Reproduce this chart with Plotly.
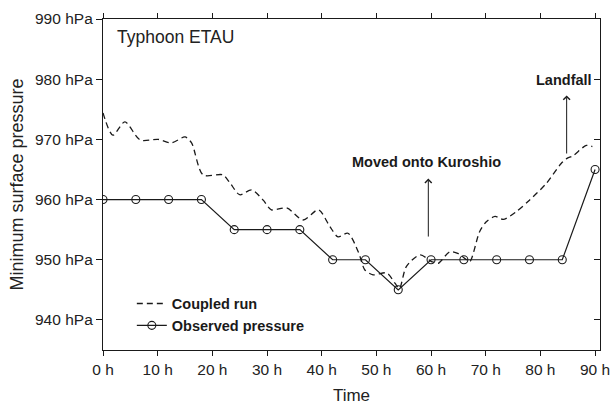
import plotly.graph_objects as go

# Observed best-track minimum pressure (every 6 h)
obs_hours = [0, 6, 12, 18, 24, 30, 36, 42, 48, 54, 60, 66, 72, 78, 84, 90]
obs_pressure = [960, 960, 960, 960, 955, 955, 955, 950, 950, 945, 950, 950, 950, 950, 950, 965]

# Coupled model run minimum pressure
run_hours = [0, 1.8, 4, 6.8, 10.1, 12.5, 15, 16.2, 18.3, 21.9, 23.2, 25, 27.2, 29.3,
             30.8, 33.6, 36.6, 39.4, 41.5, 43, 44.8, 46.7, 47.9, 49.4, 51.9, 53.4,
             54.2, 55.5, 58, 60.1, 61.3, 63.4, 65, 66.5, 67.1, 68.9, 70.1, 71.7,
             73.2, 75.6, 78, 81.1, 83.8, 84.8, 86, 88.4, 89.5]
run_pressure = [974.4, 970.7, 972.9, 969.9, 970, 969.4, 970.4, 969.4, 964.1, 964.1,
                962.8, 960.8, 961.6, 959.9, 958.3, 958.6, 956.6, 958.3, 955.5, 953.8,
                954.4, 951.3, 948.3, 947.5, 947.8, 946.1, 945.2, 948.9, 950.8, 949.7,
                949.4, 951.3, 951.0, 950, 949.7, 954.7, 956.3, 957.2, 956.7, 958,
                959.9, 962.7, 966.0, 966.8, 967.3, 969.0, 968.8]

x_ticks = [0, 10, 20, 30, 40, 50, 60, 70, 80, 90]
x_labels = [f"{h} h" for h in x_ticks]
y_ticks = [940, 950, 960, 970, 980, 990]
y_labels = [f"{p} hPa" for p in y_ticks]
x_range = [0, 90.9]
y_range = [935, 990]

# Events marked with arrows: (hour, arrow base, arrow tip, label, label pressure)
events = [
    (59.5, 953.6, 963.5, "Moved onto Kuroshio", 966.3),
    (84.8, 967.4, 977.3, "Landfall", 979.8),
]

FONT = "Liberation Sans, Arial, Helvetica, sans-serif"
INK = "#1a1a1a"

fig = go.Figure()
fig.add_trace(go.Scatter(
    x=run_hours, y=run_pressure, mode="lines", name="Coupled run",
    line=dict(color=INK, width=1.3, dash="6px,4px", shape="spline", smoothing=0.8),
))
fig.add_trace(go.Scatter(
    x=obs_hours, y=obs_pressure, mode="lines+markers", name="Observed pressure",
    line=dict(color=INK, width=1.2),
    marker=dict(symbol="circle-open", size=8, color=INK, line=dict(width=1.1)),
))
# Invisible copy on the top/right axes so those frame ticks are rendered
fig.add_trace(go.Scatter(
    x=obs_hours, y=obs_pressure, xaxis="x2", yaxis="y2", mode="lines",
    line=dict(color="rgba(0,0,0,0)", width=0), showlegend=False, hoverinfo="skip",
))

annotations = []
for hour, base, tip, label, label_y in events:
    annotations.append(dict(
        x=hour, y=tip, ax=hour, ay=base, xref="x", yref="y", axref="x", ayref="y",
        text="", showarrow=True, arrowhead=4, arrowsize=1.3, arrowwidth=1,
        arrowcolor=INK, standoff=0, startstandoff=0,
    ))
    annotations.append(dict(
        x=hour - 0.4, y=label_y, xref="x", yref="y", text=label, showarrow=False,
        xanchor="center", yanchor="middle",
        font=dict(family=FONT, size=14.5, color=INK, weight="bold"),
    ))
annotations.append(dict(
    x=2.2, y=987.0, xref="x", yref="y", text="Typhoon ETAU", showarrow=False,
    xanchor="left", yanchor="middle",
    font=dict(family=FONT, size=17.5, color="#222"),
))

fig.update_layout(
    width=612, height=405,
    margin=dict(l=103, r=12, t=19, b=55),
    paper_bgcolor="white", plot_bgcolor="white",
    font=dict(family=FONT, color="#222"),
    showlegend=True,
    legend=dict(
        x=0.058, y=0.107, xanchor="left", yanchor="middle",
        bgcolor="rgba(0,0,0,0)", borderwidth=0,
        font=dict(family=FONT, size=14.5, color=INK, weight="bold"),
        tracegroupgap=0, itemwidth=30,
    ),
    xaxis=dict(
        range=x_range, tickvals=x_ticks, ticktext=x_labels, automargin=False,
        showline=True, linecolor=INK, linewidth=1.3, mirror=True,
        ticks="outside", ticklen=5, tickcolor=INK, tickwidth=1.2,
        showgrid=False, zeroline=False,
        tickfont=dict(family=FONT, size=15.5, color="#222"),
        title=dict(text="Time", font=dict(family=FONT, size=17, color="#222"), standoff=13),
    ),
    xaxis2=dict(
        range=x_range, tickvals=x_ticks, overlaying="x", side="top", automargin=False,
        ticks="outside", ticklen=5, tickcolor=INK, tickwidth=1.2,
        showticklabels=False, showgrid=False, zeroline=False, showline=False,
    ),
    yaxis=dict(
        range=y_range, tickvals=y_ticks, ticktext=y_labels, automargin=False,
        showline=True, linecolor=INK, linewidth=1.3, mirror=True,
        ticks="outside", ticklen=6, tickcolor=INK, tickwidth=1.2,
        showgrid=False, zeroline=False,
        tickfont=dict(family=FONT, size=15.5, color="#222"),
        title=dict(text="Minimum surface pressure",
                   font=dict(family=FONT, size=18, color="#222"), standoff=6),
    ),
    yaxis2=dict(
        range=y_range, tickvals=y_ticks, overlaying="y", side="right", automargin=False,
        ticks="inside", ticklen=6, tickcolor=INK, tickwidth=1.2,
        showticklabels=False, showgrid=False, zeroline=False, showline=False,
    ),
    annotations=annotations,
)

fig.write_html("out.html")
